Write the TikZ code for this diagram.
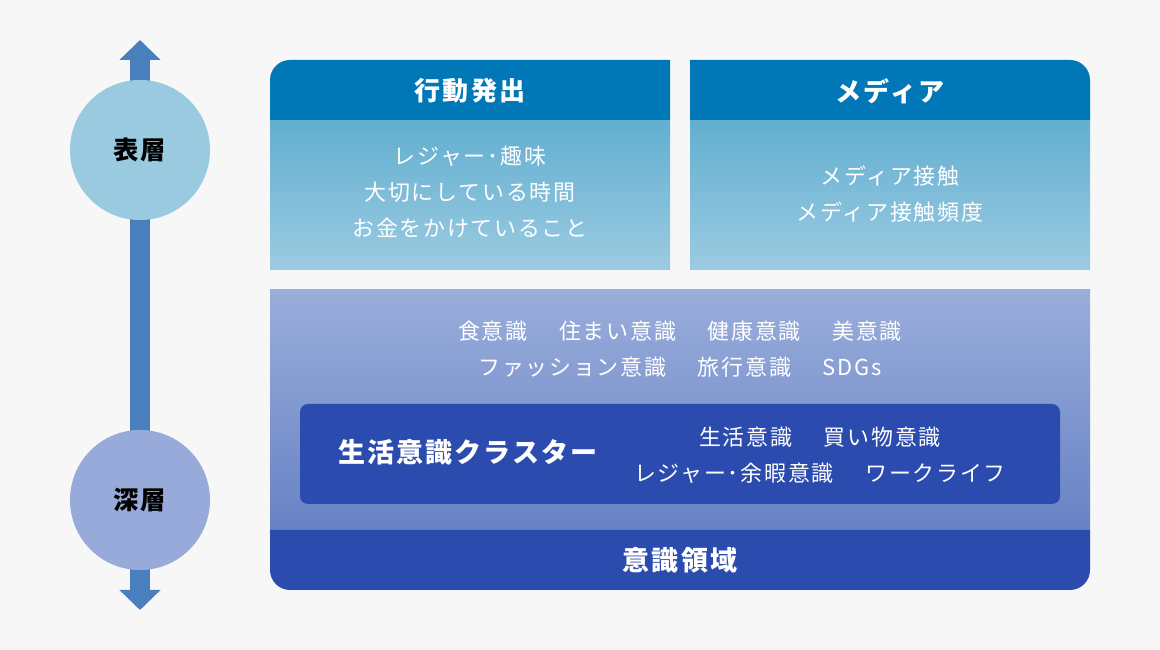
\documentclass[tikz,border=0pt]{standalone}
\usepackage{fontspec}
\setmainfont{Noto Sans CJK JP}[LetterSpace=8]
\usetikzlibrary{positioning, arrows.meta}
\definecolor{bggray}{HTML}{F7F7F7}
\definecolor{arrowblue}{HTML}{4A7FBD}
\definecolor{surfacecircle}{HTML}{9ACAE0}
\definecolor{deepcircle}{HTML}{97AAD9}
\definecolor{headblue}{HTML}{0077B6}
\definecolor{skytop}{HTML}{62AFD0}
\definecolor{skybottom}{HTML}{9CCBE2}
\definecolor{lilactop}{HTML}{9AAEDB}
\definecolor{lilacbottom}{HTML}{6782C5}
\definecolor{navy}{HTML}{2B4BAE}
\newcommand{\gap}{　\hspace{0.2cm}}
\tikzstyle{layer} = [circle, minimum size=3.5cm, inner sep=0pt, text=black, font=\fontsize{18}{20}\selectfont\bfseries]
\tikzstyle{headtext} = [text=white, font=\fontsize{18.5}{22}\selectfont\bfseries]
\tikzstyle{bodytext} = [text=white, align=center, font=\fontsize{15.6}{25.3}\selectfont]
\tikzstyle{clustertext} = [text=white, font=\fontsize{19.2}{22}\selectfont\bfseries]
\tikzstyle{arrow} = [line width=0.5cm, arrowblue, {Triangle[length=0.5cm, width=1cm]}-{Triangle[length=0.5cm, width=1cm]}]

\begin{document}
\begin{tikzpicture}[x=0.025cm, y=0.025cm]
        \fill[bggray] (0,0) rectangle (1160,650);
        \useasboundingbox (0,0) rectangle (1160,650);

        % depth axis
        \coordinate (axis top)    at (140,610);
        \coordinate (axis bottom) at (140,40);
        \draw[arrow] (axis bottom) -- (axis top);
        \node[layer, fill=surfacecircle] (surface) at (140,500) {表層};
        \node[layer, fill=deepcircle]    (deep)    at (140,150) {深層};

        % upper boxes
        \shade[top color=skytop, bottom color=skybottom] (270,380) rectangle (670,530);
        \fill[headblue] (270,530) -- (270,570) arc[start angle=180, end angle=90, radius=20] -- (670,590) -- (670,530) -- cycle;
        \shade[top color=skytop, bottom color=skybottom] (690,380) rectangle (1090,530);
        \fill[headblue] (690,530) -- (690,590) -- (1070,590) arc[start angle=90, end angle=0, radius=20] -- (1090,530) -- cycle;

        \node[headtext] (action head) at (470,559) {行動発出};
        \node[bodytext] (action body) at (470,458) {レジャー･趣味\\大切にしている時間\\お金をかけていること};
        \node[headtext] (media head)  at (890,559) {メディア};
        \node[bodytext] (media body)  at (890,456) {メディア接触\\メディア接触頻度};

        % lower box
        \shade[top color=lilactop, bottom color=lilacbottom] (270,120) rectangle (1090,360);
        \fill[navy] (270,120) -- (270,80) arc[start angle=180, end angle=270, radius=20] -- (1070,60) arc[start angle=270, end angle=360, radius=20] -- (1090,120) -- cycle;
        \fill[navy, rounded corners=0.2cm] (300,146) rectangle (1060,246);

        \node[bodytext]    (awareness)     at (680,301) {食意識\gap 住まい意識\gap 健康意識\gap 美意識\\ファッション意識\gap 旅行意識\gap SDGs};
        \node[clustertext] (cluster)       at (468,198) {生活意識クラスター};
        \node[bodytext]    (cluster items) at (820,195) {生活意識\gap 買い物意識\\レジャー･余暇意識\gap ワークライフ};
        \node[clustertext] (domain)        at (680,90)  {意識領域};
    \end{tikzpicture}
\end{document}
